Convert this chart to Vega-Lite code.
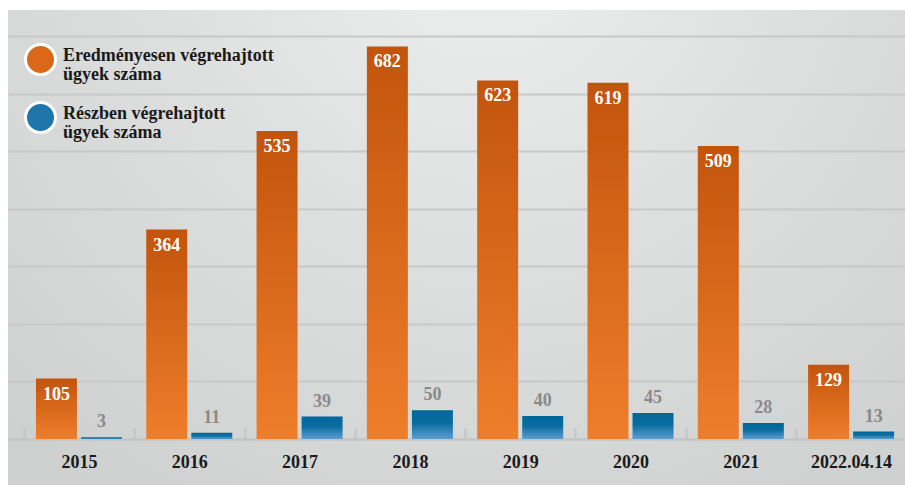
{
  "$schema": "https://vega.github.io/schema/vega-lite/v6.json",
  "width": 897,
  "height": 475,
  "autosize": {"type": "none"},
  "padding": {"left": 8, "top": 10, "right": 0, "bottom": 0},
  "background": "white",
  "config": {"font": "Liberation Serif"},
  "view": {
    "stroke": null,
    "fill": {
      "gradient": "radial",
      "x1": 0.53, "y1": 0.15, "r1": 0,
      "x2": 0.53, "y2": 0.15, "r2": 0.75,
      "stops": [
        {"offset": 0, "color": "#eeefef"},
        {"offset": 0.5, "color": "#dddede"},
        {"offset": 1, "color": "#cfd0d0"}
      ]
    }
  },
  "data": {
    "values": [
      {"year": "2015", "series": "Eredményesen végrehajtott ügyek száma", "value": 105},
      {"year": "2015", "series": "Részben végrehajtott ügyek száma", "value": 3},
      {"year": "2016", "series": "Eredményesen végrehajtott ügyek száma", "value": 364},
      {"year": "2016", "series": "Részben végrehajtott ügyek száma", "value": 11},
      {"year": "2017", "series": "Eredményesen végrehajtott ügyek száma", "value": 535},
      {"year": "2017", "series": "Részben végrehajtott ügyek száma", "value": 39},
      {"year": "2018", "series": "Eredményesen végrehajtott ügyek száma", "value": 682},
      {"year": "2018", "series": "Részben végrehajtott ügyek száma", "value": 50},
      {"year": "2019", "series": "Eredményesen végrehajtott ügyek száma", "value": 623},
      {"year": "2019", "series": "Részben végrehajtott ügyek száma", "value": 40},
      {"year": "2020", "series": "Eredményesen végrehajtott ügyek száma", "value": 619},
      {"year": "2020", "series": "Részben végrehajtott ügyek száma", "value": 45},
      {"year": "2021", "series": "Eredményesen végrehajtott ügyek száma", "value": 509},
      {"year": "2021", "series": "Részben végrehajtott ügyek száma", "value": 28},
      {"year": "2022.04.14", "series": "Eredményesen végrehajtott ügyek száma", "value": 129},
      {"year": "2022.04.14", "series": "Részben végrehajtott ügyek száma", "value": 13}
    ]
  },
  "encoding": {
    "x": {
      "field": "year",
      "type": "nominal",
      "scale": {
        "domain": ["2015", "2016", "2017", "2018", "2019", "2020", "2021", "2022.04.14"],
        "paddingInner": 0.22,
        "paddingOuter": 0.176,
        "align": 0.72
      },
      "axis": {
        "title": null,
        "orient": "bottom",
        "offset": -46,
        "labelAngle": 0,
        "labelFont": "Liberation Serif",
        "labelFontSize": 18,
        "labelFontWeight": "bold",
        "labelColor": "#1a1a1a",
        "labelPadding": 25,
        "labelOffset": 12,
        "domainColor": "#c3c4c4",
        "domainWidth": 2,
        "tickColor": "#c3c4c4",
        "tickWidth": 2,
        "tickSize": -11,
        "bandPosition": 0,
        "tickOffset": -12,
        "tickExtra": false,
        "grid": false
      }
    },
    "xOffset": {
      "field": "series",
      "type": "nominal",
      "scale": {
        "domain": ["Eredményesen végrehajtott ügyek száma", "Részben végrehajtott ügyek száma"],
        "paddingInner": 0.09,
        "paddingOuter": 0
      }
    },
    "y": {
      "field": "value",
      "type": "quantitative",
      "scale": {"domain": [-79.9, 745.4], "nice": false, "zero": false},
      "axis": {
        "title": null,
        "values": [0, 100, 200, 300, 400, 500, 600, 700],
        "grid": true,
        "gridColor": "#c7c8c8",
        "gridWidth": 2,
        "domain": false,
        "ticks": false,
        "labels": false
      }
    }
  },
  "layer": [
    {
      "transform": [{"filter": "datum.series === 'Eredményesen végrehajtott ügyek száma'"}],
      "mark": {
        "type": "bar",
        "color": {
          "gradient": "linear", "x1": 0, "y1": 0, "x2": 0, "y2": 1,
          "stops": [
            {"offset": 0, "color": "#c2540c"},
            {"offset": 1, "color": "#ef7e2b"}
          ]
        }
      },
      "encoding": {"y2": {"datum": 0}}
    },
    {
      "transform": [{"filter": "datum.series === 'Részben végrehajtott ügyek száma'"}],
      "mark": {
        "type": "bar",
        "color": {
          "gradient": "linear", "x1": 0, "y1": 0, "x2": 0, "y2": 1,
          "stops": [
            {"offset": 0, "color": "#00679a"},
            {"offset": 0.45, "color": "#0b6d9f"},
            {"offset": 1, "color": "#5d9dd2"}
          ]
        }
      },
      "encoding": {"y2": {"datum": 0}}
    },
    {
      "transform": [{"filter": "datum.series === 'Eredményesen végrehajtott ügyek száma'"}],
      "mark": {
        "type": "text",
        "font": "Liberation Serif",
        "fontSize": 18,
        "fontWeight": "bold",
        "color": "#ffffff",
        "baseline": "alphabetic",
        "dy": 21
      },
      "encoding": {"text": {"field": "value", "type": "quantitative"}}
    },
    {
      "transform": [{"filter": "datum.series === 'Részben végrehajtott ügyek száma'"}],
      "mark": {
        "type": "text",
        "font": "Liberation Serif",
        "fontSize": 18,
        "fontWeight": "bold",
        "color": "#8a8a8a",
        "baseline": "alphabetic",
        "dy": -10
      },
      "encoding": {"text": {"field": "value", "type": "quantitative"}}
    },
    {
      "mark": {"type": "point", "filled": true, "opacity": 0},
      "encoding": {
        "color": {
          "field": "series",
          "type": "nominal",
          "scale": {
            "domain": ["Eredményesen végrehajtott ügyek száma", "Részben végrehajtott ügyek száma"],
            "range": ["#db6818", "#1f76aa"]
          },
          "legend": {
            "title": null,
            "orient": "none",
            "legendX": 16,
            "legendY": 33,
            "padding": 0,
            "symbolType": "circle",
            "symbolSize": 900,
            "symbolOpacity": 1,
            "symbolStrokeColor": "#ffffff",
            "symbolStrokeWidth": 3,
            "rowPadding": 12,
            "labelOffset": 6,
            "labelFont": "Liberation Serif",
            "labelFontSize": 18,
            "labelFontWeight": "bold",
            "labelColor": "#1a1a1a",
            "labelLimit": 0,
            "labelExpr": "split(replace(datum.label, ' ügyek', '|ügyek'), '|')",
            "encode": {
              "labels": {"update": {"lineHeight": {"value": 19}, "dy": {"value": -4}}},
              "symbols": {
                "update": {
                  "fill": {"signal": "datum.index === 0 ? {gradient: 'linear', x1: 0, y1: 0, x2: 0, y2: 1, stops: [{offset: 0, color: '#c4560d'}, {offset: 1, color: '#ef7e2a'}]} : {gradient: 'linear', x1: 0, y1: 0, x2: 0, y2: 1, stops: [{offset: 0, color: '#0a6a9c'}, {offset: 1, color: '#5497cc'}]}"},
                  "stroke": {"value": "#ffffff"},
                  "strokeWidth": {"value": 3},
                  "opacity": {"value": 1}
                }
              }
            }
          }
        }
      }
    }
  ]
}
